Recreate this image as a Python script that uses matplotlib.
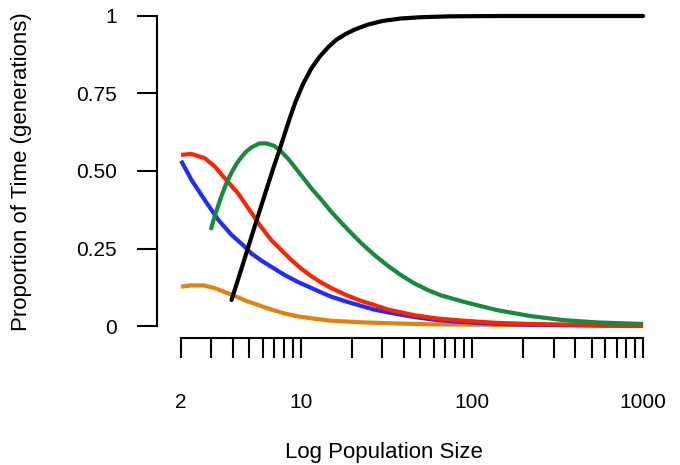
import numpy as np
import matplotlib
matplotlib.use("Agg")
import matplotlib.pyplot as plt

plt.rcParams['font.family'] = ['Liberation Sans', 'DejaVu Sans']

# ---- data ----
black_n = [3.94, 4.3, 4.6, 5.0, 5.38, 5.8, 6.3, 6.9, 7.52, 8.0, 8.6, 9.3, 10.3, 11.5,
           12.9, 14.5, 16.1, 18.3, 20.6, 24.6, 30, 38.5, 50, 75, 150, 1000]
black_y = [0.084, 0.150, 0.201, 0.265, 0.321, 0.378, 0.440, 0.508, 0.569, 0.615, 0.668,
           0.722, 0.780, 0.830, 0.869, 0.900, 0.923, 0.942, 0.956, 0.972, 0.984, 0.992,
           0.996, 0.999, 1.0, 1.0]

green_n = [2.98, 3.13, 3.30, 3.45, 3.68, 3.94, 4.21, 4.50, 4.81, 5.15, 5.73, 6.29, 7.00,
           7.69, 8.45, 9.81, 11.5, 13.2, 15.0, 17.2, 19.7, 22.5, 26.8, 32.3, 38.5, 45.9,
           55.2, 65.8, 89.6, 113, 141, 220, 343, 541, 1000]
green_y = [0.310, 0.352, 0.390, 0.421, 0.461, 0.495, 0.523, 0.545, 0.563, 0.576, 0.589,
           0.589, 0.581, 0.563, 0.539, 0.494, 0.445, 0.407, 0.370, 0.334, 0.300, 0.268,
           0.230, 0.194, 0.164, 0.138, 0.116, 0.099, 0.078, 0.064, 0.051, 0.032, 0.019,
           0.0115, 0.0065]

red_n = [2.0, 2.30, 2.75, 3.15, 3.60, 4.30, 4.70, 5.15, 5.73, 6.73, 7.69, 8.80, 10.06,
         11.5, 13.2, 15.0, 18.4, 22.5, 26.8, 32.3, 45.9, 63.1, 89.6, 141, 220, 562, 1000]
red_y = [0.552, 0.555, 0.541, 0.514, 0.476, 0.428, 0.397, 0.365, 0.327, 0.277, 0.245,
         0.213, 0.185, 0.161, 0.140, 0.123, 0.100, 0.081, 0.068, 0.053, 0.035, 0.024,
         0.017, 0.010, 0.0065, 0.003, 0.002]

blue_n = [2.0, 2.30, 2.75, 3.30, 3.94, 4.70, 5.15, 5.89, 6.73, 8.02, 9.62, 11.5, 13.2,
          15.0, 18.4, 22.5, 26.8, 32.3, 45.9, 63.1, 89.6, 141, 220, 562, 1000]
blue_y = [0.533, 0.471, 0.406, 0.342, 0.294, 0.256, 0.234, 0.211, 0.191, 0.165, 0.142,
          0.123, 0.108, 0.095, 0.079, 0.065, 0.053, 0.044, 0.029, 0.019, 0.013, 0.007,
          0.004, 0.0016, 0.001]

orange_n = [2.0, 2.30, 2.71, 3.15, 3.53, 3.99, 4.75, 5.62, 6.73, 7.99, 9.6, 11.5, 15.0,
            22.5, 32.3, 57.5, 220, 1000]
orange_y = [0.127, 0.131, 0.131, 0.122, 0.111, 0.100, 0.082, 0.068, 0.053, 0.041, 0.031,
            0.025, 0.017, 0.012, 0.009, 0.0055, 0.003, 0.001]

ytick_vals = [0, 0.25, 0.5, 0.75, 1]
ytick_labels = ["0", "0.25", "0.50", "0.75", "1"]
xtick_vals = [2, 3, 4, 5, 6, 7, 8, 9, 10, 20, 30, 40, 50, 60, 70, 80, 90,
              100, 200, 300, 400, 500, 600, 700, 800, 900, 1000]
xtick_labels = ["2", "", "", "", "", "", "", "", "10", "", "", "", "", "", "", "", "",
                "100", "", "", "", "", "", "", "", "", "1000"]

# ---- figure ----
fig = plt.figure(figsize=(6.8, 4.65), dpi=100)
ax = fig.add_axes([157/680, (465-338)/465, 504.5/680, 334/465])

lw = 3
ax.plot(orange_n, orange_y, color='#E3820A', lw=lw, solid_capstyle='butt', solid_joinstyle='round')
ax.plot(blue_n, blue_y, color='#1F2BFF', lw=lw, solid_capstyle='butt', solid_joinstyle='round')
ax.plot(red_n, red_y, color='#FF2200', lw=lw, solid_capstyle='butt', solid_joinstyle='round')
ax.plot(green_n, green_y, color='#178A3C', lw=lw, solid_capstyle='butt', solid_joinstyle='round')
ax.plot(black_n, black_y, color='black', lw=lw, solid_capstyle='round', solid_joinstyle='round')

ax.set_xscale('log')
ax.set_xlim(10**0.16, 10**3.1077)
ax.set_ylim(-0.0387, 1.0387)

for s in ['top', 'right']:
    ax.spines[s].set_visible(False)
ax.spines['left'].set_bounds(0, 1)
ax.spines['bottom'].set_bounds(2, 1000)
for s in ['left', 'bottom']:
    ax.spines[s].set_linewidth(1.5)

ax.xaxis.set_minor_locator(matplotlib.ticker.NullLocator())
ax.set_xticks(xtick_vals)
ax.set_xticklabels(xtick_labels, fontsize=15)
ax.set_yticks(ytick_vals)
ax.set_yticklabels(ytick_labels, fontsize=15)
ax.tick_params(axis='both', which='both', length=14.4, width=1.5, direction='out', color='black')
ax.tick_params(axis='y', pad=14.4)
ax.tick_params(axis='x', pad=25)

fig.text(384/680, 1 - 452/465, "Log Population Size", fontsize=16, ha='center', va='center')
fig.text(22/680, 1 - 172/465, "Proportion of Time (generations)", fontsize=16,
         ha='center', va='center', rotation=90)

fig.savefig("out.png", dpi=100)
